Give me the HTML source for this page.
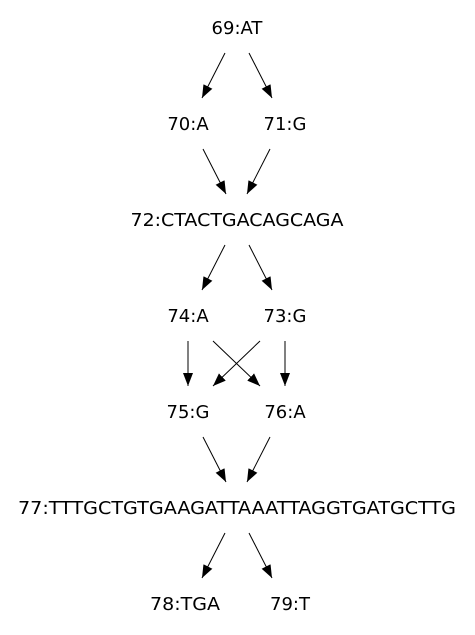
<!DOCTYPE html>
<html><head><meta charset="utf-8"><style>
html,body{margin:0;padding:0;background:#fff;}
svg{display:block;}
text{font-family:"DejaVu Sans","Liberation Sans",sans-serif;font-size:18px;fill:#000;}
</style></head><body>
<svg id="g" width="475" height="635" viewBox="0 0 475 635">
<defs><marker id="ah" viewBox="0 0 13 10" refX="13" refY="5" markerWidth="13" markerHeight="10" markerUnits="userSpaceOnUse" orient="auto"><path d="M0,0 L13,5 L0,10 z" fill="#000"/></marker></defs>
</svg>
<script>
const nodeIds = ["69","70","71","72","74","73","75","76","77","78","79"];
const nodeLabels = ["69:AT","70:A","71:G","72:CTACTGACAGCAGA","74:A","73:G","75:G","76:A","77:TTTGCTGTGAAGATTAAATTAGGTGATGCTTG","78:TGA","79:T"];
const nodeX = [237,188,285,237,188,285,188,285,237,185,290];
const nodeRank = [0,1,1,2,3,3,4,4,5,6,6];
const edgeFrom = ["69","69","70","71","72","72","74","73","74","73","75","76","77","77"];
const edgeTo   = ["70","71","72","72","74","73","75","76","76","75","77","77","78","79"];
const fitWidth = {"72":213, "77":438, "78":70};
const svg = document.getElementById('g');
const NS = "http://www.w3.org/2000/svg";
const rankY = r => 28 + r * 96;
const pos = {};
nodeIds.forEach((id,i)=>{ pos[id] = {x:nodeX[i], y:rankY(nodeRank[i])}; });
edgeFrom.forEach((f,i)=>{
  const a = pos[f], b = pos[edgeTo[i]];
  let x1, x2;
  const d = Math.sign(b.x-a.x);
  if (d === 0) { x1 = a.x; x2 = b.x; }
  else if (a.x === 237) { x1 = a.x + d*12; x2 = x1 + d*23; }
  else if (b.x === 237) { x1 = a.x - d*-15; x2 = x1 + d*23; }
  else { x1 = a.x + d*25; x2 = b.x - d*25; }
  const l = document.createElementNS(NS,'line');
  l.setAttribute('x1', x1); l.setAttribute('y1', a.y+25);
  l.setAttribute('x2', x2); l.setAttribute('y2', b.y-26);
  l.setAttribute('stroke','#000'); l.setAttribute('stroke-width','1');
  l.setAttribute('marker-end','url(#ah)');
  
  
  svg.appendChild(l);
});
nodeIds.forEach((id,i)=>{
  const t = document.createElementNS(NS,'text');
  t.setAttribute('x', pos[id].x); t.setAttribute('y', pos[id].y+6);
  t.setAttribute('text-anchor','middle');
  if (fitWidth[id]) { t.setAttribute('textLength', fitWidth[id]); t.setAttribute('lengthAdjust','spacingAndGlyphs'); }
  t.textContent = nodeLabels[i];
  
  
  svg.appendChild(t);
});
</script>
</body></html>
